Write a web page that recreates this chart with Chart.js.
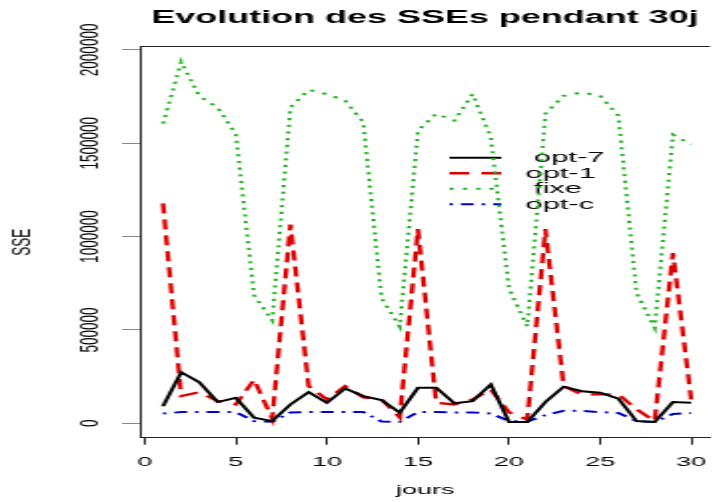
<!DOCTYPE html>
<html>
<head>
<meta charset="utf-8">
<title>Evolution des SSEs pendant 30j</title>
<script src="https://cdn.jsdelivr.net/npm/chart.js@4.4.1/dist/chart.umd.min.js"></script>
<style>
  html, body { margin: 0; padding: 0; background: #fff; }
  /* the original picture is stretched sideways, so the canvas is drawn narrow and widened by css */
  #sseChart { display: block; width: 725px !important; height: 502px !important; }
</style>
</head>
<body>
<canvas id="sseChart" width="363" height="502" style="width:725px;height:502px"></canvas>
<script>
"use strict"

// jours 1..30
const days = [1, 2, 3, 4, 5, 6, 7, 8, 9, 10, 11, 12, 13, 14, 15,
              16, 17, 18, 19, 20, 21, 22, 23, 24, 25, 26, 27, 28, 29, 30];

// SSE par jour
const opt7 = [92000, 274000, 220000, 114000, 137000, 30000, 12000, 101000, 167000, 110000,
              187000, 146000, 124000, 57000, 190000, 190000, 107000, 119000, 208000, 7000,
              7000, 114000, 196000, 172000, 164000, 132000, 12000, 7000, 114000, 110000];

const opt1 = [1178000, 146000, 167000, 119000, 101000, 233000, 25000, 1065000, 199000, 128000,
              199000, 139000, 128000, 32000, 1040000, 110000, 101000, 128000, 181000, 59000,
              21000, 1040000, 199000, 155000, 155000, 155000, 75000, 12000, 912000, 128000];

const fixe = [1605000, 1936000, 1752000, 1692000, 1550000, 686000, 551000, 1692000, 1786000, 1763000,
              1728000, 1612000, 670000, 518000, 1568000, 1658000, 1621000, 1763000, 1532000, 720000,
              519000, 1658000, 1754000, 1772000, 1754000, 1648000, 700000, 511000, 1546000, 1493000];

const optC = [53000, 60000, 60000, 60000, 60000, 12000, 8000, 58000, 60000, 60000,
              60000, 60000, 10000, 8000, 60000, 60000, 58000, 58000, 53000, 12000,
              10000, 44000, 67000, 67000, 60000, 55000, 12000, 7000, 50000, 55000];

// the labels carry leading blanks in the original legend
const seriesNames = [" opt-7", "opt-1", " fixe", "opt-c"];

const xTicks = [0, 5, 10, 15, 20, 25, 30];
const yTicks = [0, 500000, 1000000, 1500000, 2000000];

Chart.defaults.font.family = "'Liberation Sans', Arial, sans-serif";
Chart.defaults.color = "#000";

let toPoints = function (values) {
    return days.map((d, i) => ({ x: d, y: values[i] }));
}

// legend sits inside the plot, like R's legend(x, y, ...)
const legendSpot = {
    id: "legendSpot",
    afterLayout(chart) {
        const lg = chart.legend;
        if (!lg) return;
        lg.left = 225;
        lg.top = 150;
    }
};

// R draws a full box; only left, top and bottom show in the picture
const boxTop = {
    id: "boxTop",
    afterDraw(chart) {
        const ctx = chart.ctx;
        const a = chart.chartArea;
        ctx.save();
        ctx.strokeStyle = "#222";
        ctx.lineWidth = 1;
        ctx.beginPath();
        ctx.moveTo(a.left, Math.floor(a.top) + 0.5);
        ctx.lineTo(a.right, Math.floor(a.top) + 0.5);
        ctx.stroke();
        ctx.restore();
    }
};

const ctx = document.getElementById("sseChart").getContext("2d");
const sseChart = new Chart(ctx, {
    type: "line",
    data: {
        datasets: [
            {
                label: seriesNames[0],
                data: toPoints(opt7),
                borderColor: "#000000",
                borderWidth: 2,
                borderDash: []
            },
            {
                label: seriesNames[1],
                data: toPoints(opt1),
                borderColor: "#dd0000",
                borderWidth: 2.3,
                borderDash: [10, 6]
            },
            {
                label: seriesNames[2],
                data: toPoints(fixe),
                borderColor: "#22b522",
                borderWidth: 2,
                borderDash: [2.2, 4.5]
            },
            {
                label: seriesNames[3],
                data: toPoints(optC),
                borderColor: "#0000cc",
                borderWidth: 2,
                borderDash: [1.7, 4, 6.5, 4]
            }
        ]
    },
    options: {
        responsive: false,
        maintainAspectRatio: false,
        devicePixelRatio: 1,
        animation: false,
        layout: { padding: 0 },
        elements: {
            point: { radius: 0, hoverRadius: 0 },
            line: { tension: 0, fill: false, borderCapStyle: "butt", borderJoinStyle: "miter" }
        },
        plugins: {
            tooltip: { enabled: false },
            title: {
                display: true,
                fullSize: false,
                text: "Evolution des SSEs pendant 30j",
                color: "#000",
                font: { size: 18, weight: "bold" },
                padding: { top: 7.5, bottom: 17.6 }
            },
            legend: {
                position: "chartArea",
                align: "start",
                labels: {
                    usePointStyle: true,
                    pointStyleWidth: 26,
                    padding: 0,
                    color: "#000",
                    font: { size: 15.5 },
                    generateLabels: function (chart) {
                        return chart.data.datasets.map((ds, i) => ({
                            text: " " + ds.label,
                            strokeStyle: ds.borderColor,
                            fillStyle: ds.borderColor,
                            lineWidth: ds.borderWidth,
                            lineDash: ds.borderDash,
                            pointStyle: "line",
                            fontColor: "#000",
                            hidden: false,
                            datasetIndex: i
                        }));
                    }
                }
            }
        },
        scales: {
            x: {
                type: "linear",
                min: -0.27,
                max: 31.04,
                afterBuildTicks: function (scale) {
                    scale.ticks = xTicks.map(v => ({ value: v }));
                },
                afterFit: function (scale) {
                    scale.height = 64.3;
                },
                grid: { drawOnChartArea: false, drawTicks: true, tickLength: 7, color: "#222" },
                border: { display: true, color: "#222", width: 1 },
                ticks: {
                    autoSkip: false,
                    maxRotation: 0,
                    minRotation: 0,
                    padding: 9.2,
                    font: { size: 13.5 },
                    callback: v => String(v)
                },
                title: {
                    display: true,
                    text: "jours",
                    font: { size: 13.5 },
                    padding: { top: 0, bottom: 4 }
                }
            },
            y: {
                type: "linear",
                min: -77000,
                max: 2017000,
                afterBuildTicks: function (scale) {
                    scale.ticks = yTicks.map(v => ({ value: v }));
                },
                afterFit: function (scale) {
                    scale.width = 70;
                },
                grid: { drawOnChartArea: false, drawTicks: true, tickLength: 9, color: "#888" },
                border: { display: true, color: "#222", width: 1 },
                ticks: {
                    autoSkip: false,
                    minRotation: 90,
                    maxRotation: 90,
                    crossAlign: "center",
                    padding: -10.5,
                    font: { size: 13.5 },
                    callback: v => String(v)
                },
                title: {
                    display: true,
                    text: "SSE",
                    font: { size: 13.5 },
                    padding: { top: 3, bottom: 0 }
                }
            }
        }
    },
    plugins: [legendSpot, boxTop]
});
</script>
</body>
</html>
